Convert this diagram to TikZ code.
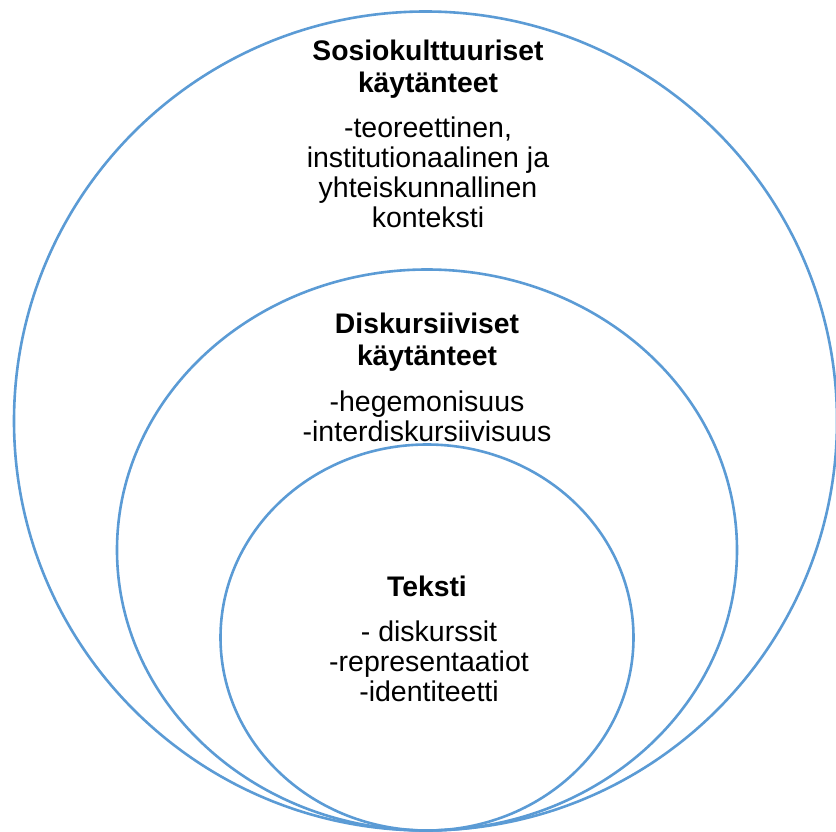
\documentclass[tikz,border=0pt]{standalone}
\usepackage{fontspec}
\setmainfont{Liberation Sans}
\definecolor{ringblue}{HTML}{5B9BD5}
\tikzset{
  ring/.style={draw=ringblue, line width=2.6pt},
  ttl/.style={font=\fontsize{28.3}{31.5}\selectfont\bfseries, align=center, inner sep=0pt},
  bdy/.style={font=\fontsize{28.5}{30}\selectfont, align=center, inner sep=0pt}
}
\begin{document}
\begin{tikzpicture}[x=1pt,y=-1pt]
\useasboundingbox (0,0) rectangle (836,832);
\draw[ring] (425.5,421) ellipse [x radius=411.5pt, y radius=409.5pt];
\draw[ring] (427,550) ellipse [x radius=310pt, y radius=280.5pt];
\draw[ring] (427,637.5) ellipse [x radius=206.5pt, y radius=193pt];
\node[ttl] (t1) at (428,69) {Sosiokulttuuriset\\käytänteet};
\node[bdy] (b1) at (428,172) {-teoreettinen,\\institutionaalinen ja\\yhteiskunnallinen\\konteksti};
\node[ttl] (t2) at (427,342) {Diskursiiviset\\käytänteet};
\node[bdy] (b2) at (427,416) {-hegemonisuus\\-interdiskursiivisuus};
\node[ttl] (t3) at (427,586) {Teksti};
\node[bdy] (b3) at (429,661) {- diskurssit\\-representaatiot\\-identiteetti};
\end{tikzpicture}
\end{document}
